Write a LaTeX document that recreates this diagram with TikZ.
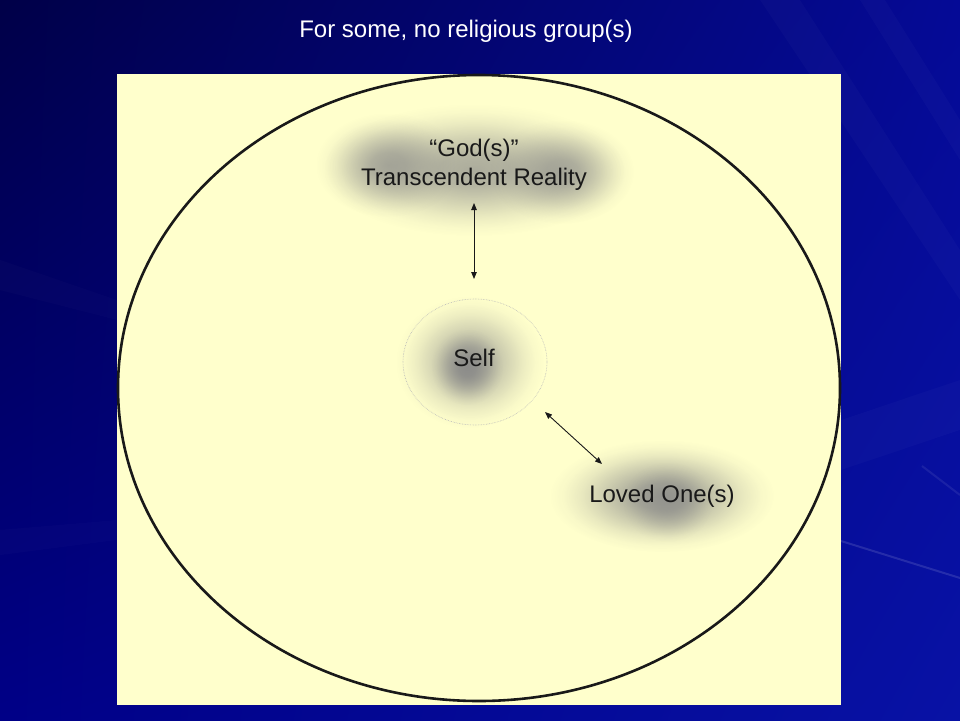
\documentclass[tikz,border=0pt]{standalone}
\usepackage{fontspec}
\setmainfont{Liberation Sans}
\usetikzlibrary{arrows.meta,fadings,shadings}
\definecolor{bgy}{RGB}{255,255,204}
\definecolor{bgul}{RGB}{0,0,72}
\definecolor{bgur}{RGB}{5,10,150}
\definecolor{bgll}{RGB}{0,0,135}
\definecolor{bglr}{RGB}{8,18,165}
\definecolor{glowc}{RGB}{140,140,138}
\definecolor{txt}{RGB}{25,25,25}
\pgfdeclareradialshading{glowshade}{\pgfpointorigin}{color(0bp)=(white); color(6bp)=(black!12); color(12bp)=(black!45); color(18bp)=(black!78); color(22bp)=(black!94); color(25bp)=(black); color(50bp)=(black)}
\pgfdeclarefading{glowfade}{\pgfuseshading{glowshade}}
\tikzset{
  glow/.style={fill=glowc, path fading=glowfade, fit fading=true},
  lbl/.style={font=\fontsize{24}{29}\selectfont, text=txt, align=center, inner sep=0pt},
  dbl/.style={{Triangle[length=7pt,width=5.5pt]}-{Triangle[length=7pt,width=5.5pt]}, line width=0.9pt, draw=txt},
  streak/.style={fill=white, opacity=0.025},
  thinstreak/.style={draw=white, opacity=0.12, line width=2pt}
}
\begin{document}
\begin{tikzpicture}[x=1pt,y=-1pt]
\useasboundingbox (0,0) rectangle (960,720);
% background
\shade[upper left=bgul, upper right=bgur, lower left=bgll, lower right=bglr] (0,0) rectangle (960,720);
\fill[streak] (760,0) -- (800,0) -- (960,250) -- (960,300) -- cycle;
\fill[streak] (860,0) -- (885,0) -- (960,120) -- (960,160) -- cycle;
\fill[streak, opacity=0.015] (0,260) -- (117,300) -- (117,320) -- (0,290) -- cycle;
\fill[streak, opacity=0.015] (0,530) -- (117,520) -- (117,540) -- (0,555) -- cycle;
\fill[streak] (841,420) -- (960,380) -- (960,430) -- (841,470) -- cycle;
\draw[thinstreak] (841,541) -- (960,578);
\draw[thinstreak, opacity=0.08] (922,466) -- (960,495);
% title
\node[font=\fontsize{24}{29}\selectfont, text=white, inner sep=0pt] (title) at (466,31) {For some, no religious group(s)};
% panel
\fill[bgy] (117,74) rectangle (841,705);
% glows
\fill[glow, opacity=0.72] (474,170) ellipse [x radius=150, y radius=66];
\fill[glow, opacity=0.7] (388,165) ellipse [x radius=72, y radius=52];
\fill[glow, opacity=0.7] (562,172) ellipse [x radius=72, y radius=52];
\fill[glow, opacity=0.7] (470,362) ellipse [x radius=74, y radius=66];
\fill[glow] (467,367) ellipse [x radius=36, y radius=38];
\fill[glow, opacity=0.85] (662,496) ellipse [x radius=112, y radius=56];
\fill[glow, opacity=0.6] (668,502) ellipse [x radius=45, y radius=40];
% big ellipse
\draw[line width=2.6pt, draw=black!90] (479,388) ellipse [x radius=361, y radius=313];
% self circle
\draw[gray!55, line width=0.6pt, densely dotted] (475,362) ellipse [x radius=72, y radius=63];
% labels
\node[lbl] (god) at (474,165) {“God(s)”\\Transcendent Reality};
\node[lbl] (self) at (474,358) {Self};
\node[lbl] (loved) at (662,496) {Loved One(s)};
% connectors
\coordinate (g1) at (474,203);
\coordinate (s1) at (474,279);
\coordinate (s2) at (545,412);
\coordinate (l1) at (602,464);
\draw[dbl] (g1) -- (s1);
\draw[dbl] (s2) -- (l1);
\end{tikzpicture}
\end{document}
